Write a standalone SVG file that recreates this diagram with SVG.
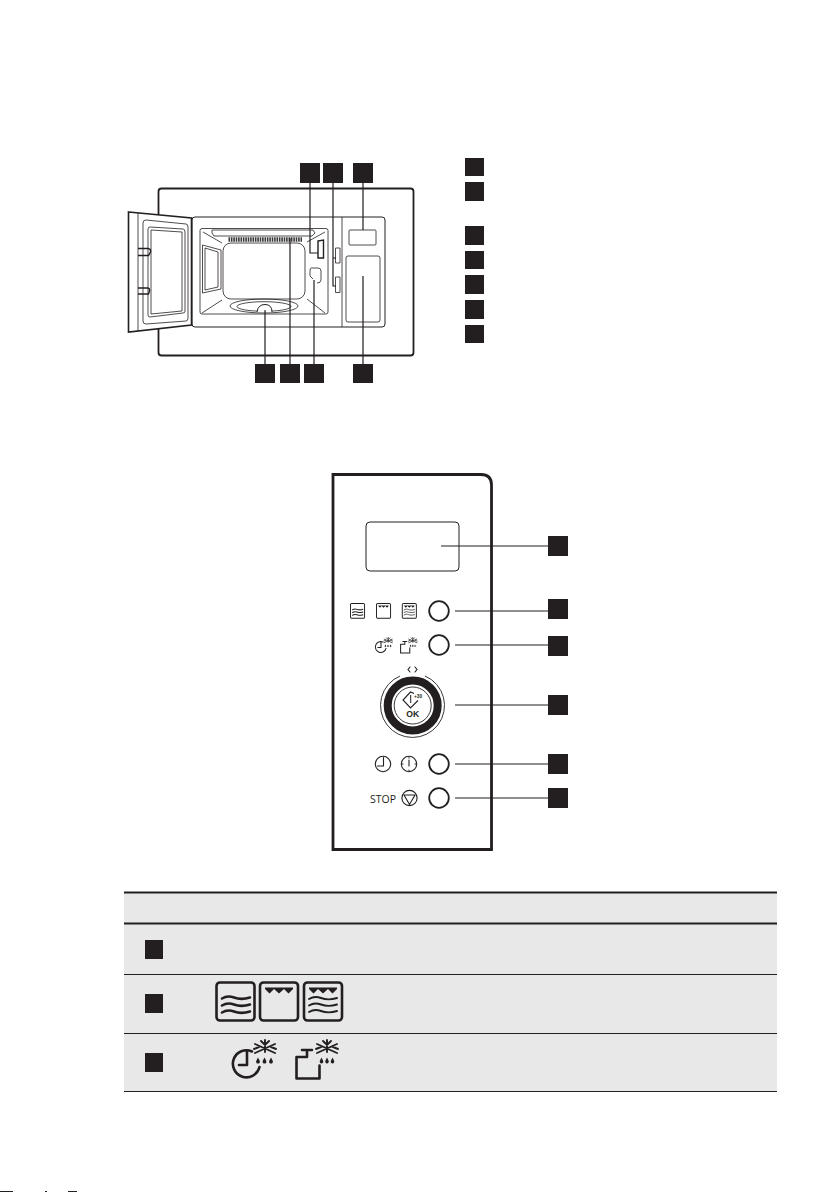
<svg xmlns="http://www.w3.org/2000/svg" width="840" height="1192" viewBox="0 0 840 1192">
<style>
.sq{fill:#231f20}
.l{fill:none;stroke:#231f20;stroke-width:1.2}
.t{fill:none;stroke:#231f20;stroke-width:.8}
.m{fill:none;stroke:#231f20;stroke-width:1.4}
.ic{fill:none;stroke:#231f20;stroke-width:1.1;stroke-linecap:round}
.b{fill:#fff;stroke:#231f20;stroke-width:1.8}
.big{fill:none;stroke:#231f20;stroke-width:2.6;stroke-linejoin:round;stroke-linecap:round}
.th{fill:none;stroke:#231f20;stroke-width:1.900;stroke-linecap:round}
.fl{fill:#231f20}
</style>
<defs>
<g id="i-waves" class="big"><rect width="38" height="38" rx="3.500"/>
<path d="M5.500 16c4-2.500 8-2.500 12-1s8 2.500 16 0M5.500 23c4-2.500 8-2.500 12-1s8 2.500 16 0M5.500 30c4-2.500 8-2.500 12-1s8 2.500 16 0"/></g>
<g id="i-top"><rect class="big" width="38" height="38" rx="3.500"/>
<path class="fl" d="M5 5H33V6.500L28.500 11L24 6.500L19 11L14 6.500L9.500 11L5 6.500Z"/></g>
<g id="i-both"><rect class="big" width="38" height="38" rx="3.500"/>
<path class="fl" d="M5 5H33V6.500L28.500 11L24 6.500L19 11L14 6.500L9.500 11L5 6.500Z"/>
<path class="th" d="M5 16.500c4-2.500 8-2.500 12-1s8 2.500 16 0M5 23c4-2.500 8-2.500 12-1s8 2.500 16 0M5 29.500c4-2.500 8-2.500 12-1s8 2.500 16 0"/></g>
<g id="flake" class="th"><path d="M0 0V12M-10 4L10 13M10 4L-10 13M-4 1L0 5L4 1M-11 9L-6 7M11 9L6 7"/></g>
<g id="i-clock">
<path class="big" d="M20 11.500A13.500 13.500 0 1 0 27.500 27M15 11V25H7"/>
<use href="#flake" x="33"/>
<path class="fl" d="M26 17.500l1.700 3.300a1.900 1.900 0 1 1-3.400 0ZM32.500 17.500l1.700 3.300a1.900 1.900 0 1 1-3.400 0ZM39 17.500l1.700 3.300a1.900 1.900 0 1 1-3.400 0Z"/>
</g>
<g id="i-tank">
<path class="big" d="M12 17H1.500V38.500H24.500V25.500M12 11V17M7 10H17"/>
<use href="#flake" x="32"/>
<path class="fl" d="M26.500 17.500l1.600 3.300a1.800 1.800 0 1 1-3.200 0ZM32 17.500l1.600 3.300a1.800 1.800 0 1 1-3.200 0ZM37.500 17.500l1.600 3.300a1.800 1.800 0 1 1-3.200 0Z"/>
</g>
</defs>
<rect width="840" height="1192" fill="#fff"/>
<g id="oven">
<rect x="158.500" y="188.500" width="255" height="167" rx="3" fill="#fff" stroke="#231f20" stroke-width="1.800"/>
<rect x="192" y="217" width="193" height="110" rx="3" fill="#fff" stroke="#231f20" stroke-width="1"/>
<path class="t" d="M342 217V327"/>
<path d="M128.500 212L191.500 218V325L128.500 332Z" fill="#fff" stroke="#231f20" stroke-width="1.600"/>
<path class="t" d="M138 212.500V331"/>
<path class="t" d="M146 220L186 224Q188 224 188 227V318Q188 321 186 321L146 324Q143 324 143 321V223Q143 220 146 220Z" stroke-width=".6"/>
<path class="t" d="M150 227L183 229Q185 229 185 232V311Q185 313 183 313L150 317Q148 317 148 315V229Q148 227 150 227Z" stroke-width="1"/>
<path class="t" d="M151 230L182 232V311L151 314Z" stroke-width=".6"/>
<path class="m" d="M138 248.500H148Q151 249 150.500 252L148.500 255.500H138M138 288H148Q150 288.500 149.500 291L148.500 294H138"/>
<rect x="200" y="228.500" width="128" height="85.500" rx="2" class="t" stroke-width="1"/>
<rect x="223" y="243" width="82" height="56" rx="8" class="t" stroke-width=".7"/>
<path class="t" d="M203 232L222 243M325 232L307 242M202 313L222 300M325 313L307 299" stroke-width=".7"/>
<path class="t" d="M202.500 245L221 250V289L202.500 293ZM205 248L218 252V287L205 290Z" stroke-width=".7"/>
<path class="t" d="M212 230H313L315 233L312 236H214L212 233Z" stroke-width=".7"/>
<path d="M228.500 239.500H302" fill="none" stroke="#3c393a" stroke-width="4.400" stroke-dasharray="1.600 .8"/>
<ellipse cx="264" cy="306" rx="34" ry="7" class="t" stroke-width="1"/>
<ellipse cx="264" cy="306.500" rx="27" ry="4.800" class="t" stroke-width=".6"/>
<path d="M257 312Q258 304.500 265 304.500T272 312" fill="#fff" stroke="#231f20" stroke-width="1"/>
<path class="m" d="M318 241L323.500 240V258H318Z"/>
<path class="t" d="M311 268H318Q321 268 321 271V280Q321 283 317 283M311 268Q310 268 310 271V276L313 279" stroke-width="1"/>
<path class="t" d="M335.500 248H340V263H335.500ZM335.500 277H340V292.500H335.500Z"/>
<rect x="349" y="230" width="27" height="15" rx="1" class="t" stroke-width="1"/>
<rect x="346" y="256" width="34" height="66" rx="2" class="t" stroke-width="1"/>
</g>
<g id="markers-oven">
<rect class="sq" x="300" y="163" width="20" height="20"/>
<rect class="sq" x="323" y="163" width="20" height="20"/>
<rect class="sq" x="353" y="163" width="20" height="20"/>
<rect class="sq" x="255" y="364" width="20" height="19"/>
<rect class="sq" x="280" y="364" width="20" height="19"/>
<rect class="sq" x="304" y="364" width="20" height="19"/>
<rect class="sq" x="353" y="364" width="20" height="19"/>
</g>
<g id="legend">
<rect class="sq" x="465" y="158" width="19" height="18"/>
<rect class="sq" x="465" y="182" width="19" height="19"/>
<rect class="sq" x="465" y="226" width="19" height="19"/>
<rect class="sq" x="465" y="251" width="19" height="18"/>
<rect class="sq" x="465" y="275" width="19" height="19"/>
<rect class="sq" x="465" y="300" width="19" height="19"/>
<rect class="sq" x="465" y="325" width="19" height="18"/>
</g>
<g id="panel">
<path d="M333 849.500V474.500H481Q491.500 474.500 491.500 485V849.500Z" fill="#fff" stroke="#231f20" stroke-width="2.800"/>
<rect x="366" y="522" width="93" height="49" rx="4" fill="#fff" stroke="#231f20" stroke-width="1"/>
<use href="#i-waves" transform="translate(350.500 603.500) scale(.37 .39)"/>
<use href="#i-top" transform="translate(376.500 603.500) scale(.37 .39)"/>
<use href="#i-both" transform="translate(402.300 603.500) scale(.37 .39)"/>
<use href="#i-clock" transform="translate(375 637.500) scale(.4)"/>
<use href="#i-tank" transform="translate(400 637.500) scale(.4)"/>
<circle class="b" cx="439" cy="611" r="9.800"/>
<circle class="b" cx="439" cy="645" r="9.800"/>
<circle class="b" cx="439" cy="764" r="9.800"/>
<circle class="b" cx="439" cy="798" r="9.800"/>
<g id="dial">
<path d="M400 676A32 32 0 1 0 425 676" fill="none" stroke="#231f20" stroke-width=".9"/>
<circle cx="412.700" cy="705.500" r="25" fill="#fff" stroke="#231f20" stroke-width="8"/>
<circle cx="412.700" cy="705.500" r="18.500" fill="none" stroke="#231f20" stroke-width=".9"/>
<path d="M414 693.500L410.500 692L403 700L410.500 708L418 700.500" fill="none" stroke="#231f20" stroke-width="1.100"/>
<path d="M410.700 695V703" stroke="#231f20" stroke-width="1"/>
<text x="414" y="698" font-size="4.800" font-weight="bold" style="font-family:'Liberation Sans',Arial,sans-serif" fill="#231f20">+30</text>
<text x="412.700" y="717" font-size="8.600" font-weight="bold" text-anchor="middle" style="font-family:'Liberation Sans',Arial,sans-serif" fill="#231f20">OK</text>
<path class="ic" d="M410 667L408 669.500L410 672M415 667L417 669.500L415 672"/>
</g>
<circle class="ic" cx="383" cy="764" r="7.700"/>
<path class="ic" d="M383.500 757.500V766H377.500"/>
<circle class="ic" cx="409" cy="764" r="7.700"/>
<path class="ic" d="M409 760V766M409 757.500v.6M409 770v.6M402.500 764h.6M415 764h.6"/>
<text x="370" y="802.700" font-size="10.500" style="font-family:'Open Sans',Arial,sans-serif" fill="#231f20">STOP</text>
<circle class="ic" cx="409.500" cy="798" r="7.600"/>
<path class="ic" d="M404 795H415L409.500 804.500Z"/>
</g>
<g id="markers-panel">
<rect class="sq" x="548" y="536" width="20" height="20"/>
<rect class="sq" x="548" y="599" width="20" height="20"/>
<rect class="sq" x="548" y="636" width="20" height="20"/>
<rect class="sq" x="548" y="695" width="20" height="20"/>
<rect class="sq" x="548" y="754" width="20" height="20"/>
<rect class="sq" x="548" y="788" width="20" height="20"/>
</g>
<g id="table">
<rect x="124" y="892" width="653" height="199" fill="#e8e8e8"/>
<path d="M124 892.500H777M124 923.500H777" stroke="#231f20" stroke-width="1.800" fill="none"/>
<path d="M124 974.500H777M124 1033.500H777M124 1091.500H777" stroke="#231f20" stroke-width="1" fill="none"/>
<rect class="sq" x="145" y="940" width="18" height="19"/>
<rect class="sq" x="145" y="994" width="18" height="19"/>
<rect class="sq" x="145" y="1053" width="18" height="19"/>
<use href="#i-waves" x="216.500" y="982.500"/>
<use href="#i-top" x="260" y="982.500"/>
<use href="#i-both" x="304" y="982.500"/>
<use href="#i-clock" x="232" y="1040"/>
<use href="#i-tank" x="295" y="1040"/>
</g>
<g id="connectors">
<path class="l" d="M310 183V253H318M333 183V286H336M333 258H336M363 183V230M265 364V310M290 364V238M314 364V280M363 364V276"/>
<path class="l" d="M441 546H548M455 611H548M455 645H548M455 705H548M455 764H548M455 798H548"/>
</g>
<path d="M0 1191H13V1192H0ZM45 1191H47V1192H45ZM68 1191H77V1192H68Z" fill="#231f20"/>
</svg>
